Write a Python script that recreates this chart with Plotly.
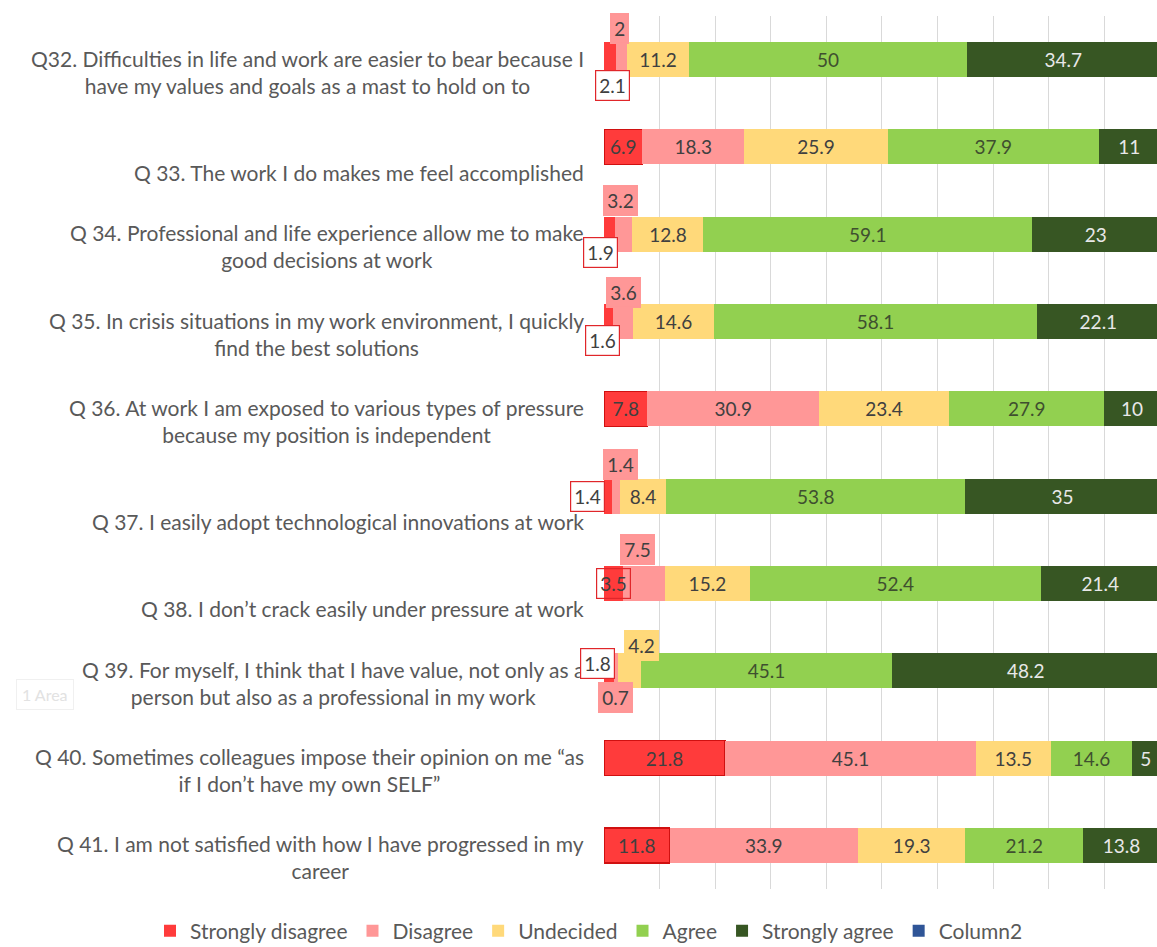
import plotly.graph_objects as go

# ---------------- data ----------------
question_ids = ["Q32", "Q33", "Q34", "Q35", "Q36", "Q37", "Q38", "Q39", "Q40", "Q41"]
question_labels = [
    "Q32. Difficulties in life and work are easier to bear because I<br>have my values and goals as a mast to hold on to",
    "Q 33. The work I do makes me feel accomplished",
    "Q 34. Professional and life experience allow me to make<br>good decisions at work",
    "Q 35. In crisis situations in my work environment, I quickly<br>find the best solutions",
    "Q 36. At work I am exposed to various types of pressure<br>because my position is independent",
    "Q 37. I easily adopt technological innovations at work",
    "Q 38. I don\u2019t crack easily under pressure at work",
    "Q 39. For myself, I think that I have value, not only as a<br>person but also as a professional in my work",
    "Q 40. Sometimes colleagues impose their opinion on me \u201cas<br>if I don\u2019t have my own SELF\u201d",
    "Q 41. I am not satisfied with how I have progressed in my<br>career",
]
strongly_disagree = [2.1, 6.9, 1.9, 1.6, 7.8, 1.4, 3.5, 1.8, 21.8, 11.8]
disagree = [2, 18.3, 3.2, 3.6, 30.9, 1.4, 7.5, 0.7, 45.1, 33.9]
undecided = [11.2, 25.9, 12.8, 14.6, 23.4, 8.4, 15.2, 4.2, 13.5, 19.3]
agree = [50, 37.9, 59.1, 58.1, 27.9, 53.8, 52.4, 45.1, 14.6, 21.2]
strongly_agree = [34.7, 11, 23, 22.1, 10, 35, 21.4, 48.2, 5, 13.8]
column2 = [0, 0, 0, 0, 0, 0, 0, 0, 0, 0]
series_names = ["Strongly disagree", "Disagree", "Undecided", "Agree", "Strongly agree", "Column2"]

# ---------------- styles ----------------
colors = ["#FF3B3B", "#FF9797", "#FFD97A", "#92D050", "#375623", "#2F5597"]
text_colors = ["#404040", "#404040", "#404040", "#3f4f2f", "#E8E8E8", "#404040"]
label_font = "Lato"
series = [strongly_disagree, disagree, undecided, agree, strongly_agree, column2]

# callout labels for thin segments: (series index, question index) -> (dx px, dy px, style)
callouts = {
    (0, 0): (3, 26, "box"), (1, 0): (-2, -31, "fill"),
    (0, 2): (-9, 18, "box"), (1, 2): (-3, -34, "fill"),
    (0, 3): (-6, 19, "box"), (1, 3): (1, -29, "fill"),
    (0, 5): (-20, 0, "box"), (1, 5): (5, -32, "fill"),
    (0, 6): (0, 0, "frame"), (1, 6): (-7, -34, "fill"),
    (0, 7): (-12, -7, "box"), (1, 7): (0, 27, "fill"), (2, 7): (12, -25, "fill"),
}
framed_inside = {(0, 1), (0, 4), (0, 8), (0, 9)}

X_MAX = 99.5
PLOT_L, PLOT_R, PLOT_T, PLOT_B = 604, 0, 16, 58
W, H = 1157, 947
PW, PH = W - PLOT_L - PLOT_R, H - PLOT_T - PLOT_B

fig = go.Figure()
for si, (name, vals) in enumerate(zip(series_names, series)):
    texts = []
    for qi, v in enumerate(vals):
        if si == 5 or (si, qi) in callouts:
            texts.append("")
        else:
            texts.append(f"{v:g}")
    lw = [1.5 if (si, qi) in framed_inside else 0 for qi in range(len(vals))]
    fig.add_trace(go.Bar(
        name=name, y=question_ids, x=vals, orientation="h",
        marker=dict(color=colors[si], line=dict(color="#D01010", width=lw)),
        text=texts, textposition="inside", insidetextanchor="middle",
        textangle=0, constraintext="none",
        textfont=dict(family=label_font, size=19, color=text_colors[si]),
        width=0.4, hoverinfo="skip",
    ))

annotations = []
# category labels
for qid, lab in zip(question_ids, question_labels):
    annotations.append(dict(
        x=0, xref="paper", y=qid, yref="y", text=lab, showarrow=False,
        xanchor="right", yanchor="bottom", align="center", xshift=-18, yshift=-40,
        font=dict(family=label_font, size=21, color="#595959"),
    ))

# callouts
for (si, qi), (dx, dy, style) in callouts.items():
    start = sum(series[k][qi] for k in range(si))
    mid = start + series[si][qi] / 2
    if style == "box":
        bg, bc = "#FFFFFF", "#E0262A"
    elif style == "frame":
        bg, bc = "rgba(0,0,0,0)", "#E0262A"
    else:
        bg, bc = colors[si], colors[si]
    annotations.append(dict(
        x=mid, xref="x", y=question_ids[qi], yref="y", text=f"{series[si][qi]:g}",
        showarrow=False, xanchor="center", yanchor="middle",
        xshift=dx, yshift=-dy, bgcolor=bg, bordercolor=bc, borderwidth=1.2, borderpad=3,
        font=dict(family=label_font, size=19, color="#404040"),
    ))

# faint artefact label at left
annotations.append(dict(
    x=-(PLOT_L - 45) / PW, xref="paper", y=(H - PLOT_B - 694) / PH, yref="paper",
    text="1 Area", showarrow=False, xanchor="center", yanchor="middle",
    font=dict(family=label_font, size=16, color="#E2E2E2"), bordercolor="#F0F0F0",
    borderwidth=1, borderpad=5,
))

fig.update_layout(
    width=W, height=H, barmode="stack",
    margin=dict(l=PLOT_L, r=PLOT_R, t=PLOT_T, b=PLOT_B, pad=0, autoexpand=False),
    paper_bgcolor="white", plot_bgcolor="white",
    xaxis=dict(range=[0, X_MAX], dtick=10, tick0=0, showgrid=True, gridcolor="#D9D9D9",
               gridwidth=1, showticklabels=False, zeroline=False, showline=False, fixedrange=True),
    yaxis=dict(categoryorder="array", categoryarray=question_ids, autorange="reversed",
               showticklabels=False, showgrid=False, zeroline=False, showline=False),
    legend=dict(orientation="h", xref="paper", x=-(PLOT_L - 150) / PW, xanchor="left",
                yref="paper", y=-(931 - (H - PLOT_B)) / PH, yanchor="middle",
                font=dict(family=label_font, size=21, color="#595959"),
                itemwidth=30, traceorder="normal", bgcolor="rgba(0,0,0,0)"),
    annotations=annotations,
    showlegend=True,
)

fig.write_html("out.html")
